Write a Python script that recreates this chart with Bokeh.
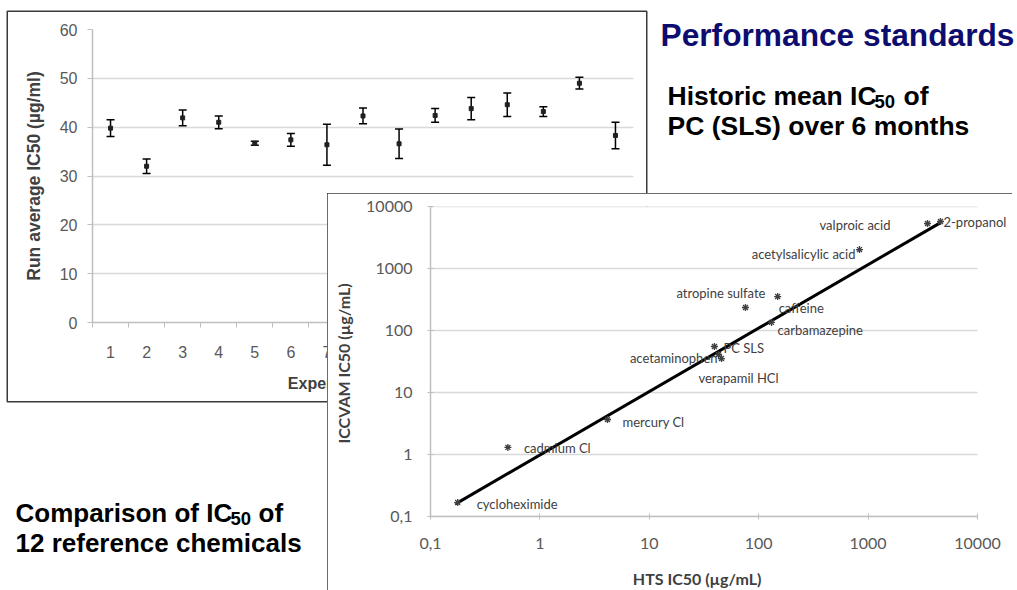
from bokeh.plotting import figure
from bokeh.models import (ColumnDataSource, FixedTicker, Whisker, TeeHead, LabelSet,
                          CustomJSTickFormatter, Range1d, Column, Row)
from bokeh.embed import file_html
from bokeh.resources import INLINE
from bokeh.core.properties import value

# ---------------- data: chart 1 (historic mean IC50 of PC SLS) ----------------
runs = list(range(1, 16))
run_tick_labels = [str(r) for r in runs]
run_mean = [39.8, 32.0, 41.9, 41.0, 36.7, 37.4, 36.4, 42.3, 36.6, 42.4, 43.8, 44.6, 43.2, 49.0, 38.3]
run_err = [1.7, 1.5, 1.6, 1.3, 0.4, 1.3, 4.2, 1.6, 3.0, 1.4, 2.3, 2.4, 1.0, 1.2, 2.7]
run_y_ticks = [0, 10, 20, 30, 40, 50, 60]

# ---------------- data: chart 2 (HTS vs ICCVAM IC50) ----------------
chem_names = ["cycloheximide", "cadmium Cl", "mercury Cl", "acetaminophen", "verapamil HCl",
              "PC SLS", "carbamazepine", "caffeine", "atropine sulfate",
              "acetylsalicylic acid", "valproic acid", "2-propanol"]
hts_ic50 = [0.177, 0.51, 4.15, 45.7, 42.9, 39.4, 131, 149, 75.7, 834, 3490, 4590]
iccvam_ic50 = [0.168, 1.30, 3.67, 35.3, 41.0, 55.2, 135, 353, 235, 2020, 5320, 5730]
trend_hts = [0.17, 4600]
trend_iccvam = [0.16, 5500]
log_ticks = [0.1, 1, 10, 100, 1000, 10000]

# label placement (pixels relative to point, y downwards) - styling only
label_dx = [19, 16, 15, -4, -20, 9, 6, 1, 20, -4, -37, 3]
label_dy = [1, 1, 3, -1, 23, 2, 8, 11, -14, 4, 2, 1]
label_right = [3, 8, 9, 10]

GRID = "#d9d9d9"
AXIS = "#bfbfbf"
BOX = "#3a3a3a"

# ---------------- background with slide texts ----------------
bg = figure(width=1017, height=590, x_range=Range1d(0, 1017), y_range=Range1d(590, 0),
            title=None, min_border=0, x_axis_location=None, y_axis_location=None,
            output_backend="svg", toolbar_location=None, outline_line_color=None,
            background_fill_color="white", border_fill_color="white")
bg.grid.visible = False
F = value("Liberation Sans")
# frame box of the first (underlying) chart
bg.quad(left=[6.75], right=[646.25], top=[10.75], bottom=[401.25],
        fill_color=None, line_color=BOX, line_width=1.5)
bg.text(x=[660], y=[34], text=["Performance standards"], text_font=F, text_font_style="bold",
        text_font_size="31.7px", text_color="#0d0d70", text_baseline="alphabetic")
bg.text(x=[667, 903, 667], y=[95, 95, 125],
        text=["Historic mean IC", "of", "PC (SLS) over 6 months"],
        text_font=F, text_font_style="bold", text_font_size="26.5px", text_color="black",
        text_baseline="alphabetic")
bg.text(x=[15, 258, 15], y=[512, 512, 542],
        text=["Comparison of IC", "of", "12 reference chemicals"],
        text_font=F, text_font_style="bold", text_font_size="26px", text_color="black",
        text_baseline="alphabetic")
bg.text(x=[874, 230], y=[101, 518], text=["50", "50"], text_font=F, text_font_style="bold",
        text_font_size="18.5px", text_color="black", text_baseline="alphabetic")

# ---------------- chart 1 ----------------
c1 = figure(x_range=Range1d(0.5, 15.5), y_range=Range1d(0, 60), title=None,
            frame_width=541, frame_height=293,
            min_border_left=86, min_border_right=14, min_border_top=19, min_border_bottom=80,
            output_backend="svg", toolbar_location=None, outline_line_color=None,
            background_fill_alpha=0, border_fill_alpha=0)
c1.xgrid.visible = False
c1.ygrid.grid_line_color = GRID
c1.ygrid.grid_line_width = 1.5
c1.yaxis.ticker = FixedTicker(ticks=run_y_ticks)
c1.xaxis.ticker = FixedTicker(ticks=runs, minor_ticks=[r - 0.5 for r in runs] + [runs[-1] + 0.5])
c1.xaxis.major_label_overrides = {r: l for r, l in zip(runs, run_tick_labels)}
for ax in (c1.xaxis[0], c1.yaxis[0]):
    ax.axis_line_color = AXIS
    ax.axis_line_width = 1.5
    ax.major_tick_line_color = AXIS
    ax.minor_tick_line_color = AXIS
    ax.major_label_text_font = "Liberation Sans"
    ax.major_label_text_font_size = "16px"
    ax.major_label_text_color = "#595959"
    ax.axis_label_text_font = "Liberation Sans"
    ax.axis_label_text_font_style = "bold"
    ax.axis_label_text_color = "#404040"
c1.xaxis.major_tick_out = 0
c1.xaxis.major_tick_in = 0
c1.xaxis.minor_tick_out = 5
c1.xaxis.minor_tick_in = 0
c1.xaxis.major_label_standoff = 18
c1.xaxis.axis_label = "Experiment number"
c1.xaxis.axis_label_text_font_size = "16px"
c1.xaxis.axis_label_standoff = 14
c1.yaxis.major_tick_out = 5
c1.yaxis.major_tick_in = 0
c1.yaxis.minor_tick_line_color = None
c1.yaxis.major_label_standoff = 10
c1.yaxis.axis_label = "Run average IC50 (µg/ml)"
c1.yaxis.axis_label_text_font_size = "17.5px"
c1.yaxis.axis_label_standoff = 13

src1 = ColumnDataSource(dict(run=runs, mean=run_mean,
                             lower=[m - e for m, e in zip(run_mean, run_err)],
                             upper=[m + e for m, e in zip(run_mean, run_err)]))
c1.add_layout(Whisker(base="run", lower="lower", upper="upper", source=src1, dimension="height",
                      line_color="black", line_width=1.5,
                      upper_head=TeeHead(size=8, line_color="black", line_width=1.5),
                      lower_head=TeeHead(size=8, line_color="black", line_width=1.5)))
c1.scatter("run", "mean", source=src1, marker="square", size=4, color="#202020")

# ---------------- chart 2 ----------------
x_hi = 10 ** (-1 + 580 / (547 / 5))   # frame extended to the right so outer labels are not cut
c2 = figure(x_axis_type="log", y_axis_type="log", title=None,
            x_range=Range1d(0.1, x_hi), y_range=Range1d(0.1, 10000),
            frame_width=580, frame_height=310,
            min_border_left=103, min_border_right=2, min_border_top=13, min_border_bottom=84,
            output_backend="svg", toolbar_location=None, outline_line_color=None,
            background_fill_color="white", border_fill_color="white")
c2.grid.visible = False
fmt = CustomJSTickFormatter(code="return tick < 1 ? String(tick).replace('.', ',') : String(tick);")
for ax in (c2.xaxis[0], c2.yaxis[0]):
    ax.ticker = FixedTicker(ticks=log_ticks, minor_ticks=[])
    ax.formatter = fmt
    ax.axis_line_color = AXIS
    ax.axis_line_width = 1.5
    ax.major_tick_line_color = AXIS
    ax.minor_tick_line_color = None
    ax.major_tick_in = 3
    ax.major_tick_out = 3
    ax.major_label_text_font = "Lato"
    ax.major_label_text_font_size = "16px"
    ax.major_label_text_color = "#595959"
    ax.axis_label_text_font = "Lato"
    ax.axis_label_text_font_style = "bold"
    ax.axis_label_text_font_size = "16px"
    ax.axis_label_text_color = "#404040"
c2.xaxis.bounds = (log_ticks[0], log_ticks[-1])
c2.xaxis.major_label_standoff = 18
# trailing no-break spaces keep the title centred under the 0,1..10000 span
c2.xaxis.axis_label = "HTS IC50 (µg/mL)" + "\u00a0" * 12
c2.xaxis.axis_label_standoff = 17
c2.yaxis.major_label_standoff = 15
c2.yaxis.axis_label = "ICCVAM  IC50 (µg/mL)"
c2.yaxis.axis_label_standoff = 10
# horizontal grid lines at the y ticks, spanning the tick range
c2.segment(x0=[log_ticks[0]] * len(log_ticks), x1=[log_ticks[-1]] * len(log_ticks),
           y0=log_ticks, y1=log_ticks, line_color=GRID, line_width=1.5)

src2 = ColumnDataSource(dict(hts=hts_ic50, icc=iccvam_ic50))
c2.line(trend_hts, trend_iccvam, line_color="black", line_width=3)
c2.scatter("hts", "icc", source=src2, marker="asterisk", size=7, line_color="#404040", line_width=1.3)
left_idx = [i for i in range(len(chem_names)) if i not in label_right]
for idx, align in ((left_idx, "left"), (label_right, "right")):
    lsrc = ColumnDataSource(dict(hts=[hts_ic50[i] for i in idx], icc=[iccvam_ic50[i] for i in idx],
                                 name=[chem_names[i] for i in idx],
                                 dx=[label_dx[i] for i in idx], dy=[-label_dy[i] for i in idx]))
    c2.add_layout(LabelSet(x="hts", y="icc", text="name", source=lsrc, x_offset="dx", y_offset="dy",
                           text_align=align, text_baseline="middle", text_font=value("Lato"),
                           text_font_size="13px", text_color="#404040"))

# ---------------- composition ----------------
c2.styles = {"outline": "1.5px solid " + BOX, "outline-offset": "-1.5px"}
w1 = Row(children=[c1], styles={"position": "absolute", "left": "6px", "top": "10px"})
w2 = Row(children=[c2], styles={"position": "absolute", "left": "327px", "top": "193px"})
root = Column(children=[bg, w1, w2], width=1017, height=590,
              styles={"position": "relative", "overflow": "hidden"})

open("out.html", "w").write(file_html(root, INLINE))
